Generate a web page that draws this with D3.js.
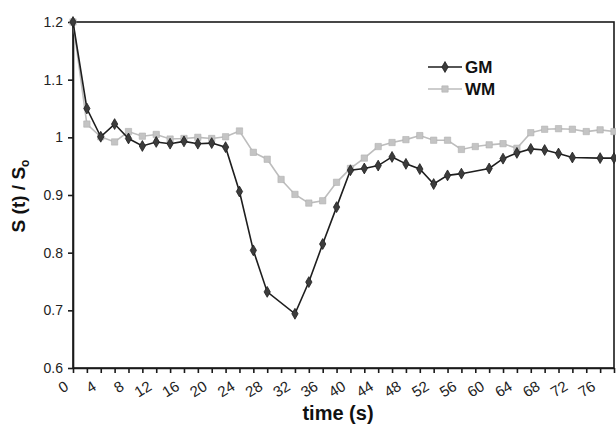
<!DOCTYPE html>
<meta charset="utf-8">
<style>
    body { margin: 0; background: #fff; }
    svg { font-family: "Liberation Sans", Arial, sans-serif; }
    .axis path, .axis line { stroke: #1a1a1a; stroke-width: 1.6; }
    .axis text { fill: #222; font-size: 14px; }
    .frame { fill: none; stroke: #1a1a1a; stroke-width: 1.6; }
    .gm-line { fill: none; stroke: #1e1e1e; stroke-width: 1.6; }
    .wm-line { fill: none; stroke: #bdbdbd; stroke-width: 1.6; }
    .gm-dot { fill: #3c3c3c; stroke: #1e1e1e; stroke-width: 0.8; }
    .wm-dot { fill: #c4c4c4; stroke: #b0b0b0; stroke-width: 0.6; }
    .title { font-weight: bold; fill: #111; }
</style>

<svg width="616" height="436"></svg>

<script src="https://d3js.org/d3.v7.min.js"></script>
<script>
// values
var gmTime = [0, 2, 4, 6, 8, 10, 12, 14, 16, 18, 20, 22, 24, 26, 28, 32, 34, 36, 38,
              40, 42, 44, 46, 48, 50, 52, 54, 56, 60, 62, 64, 66, 68, 70, 72, 76, 78];
var gmValue = [1.2, 1.05, 1.001, 1.023, 0.998, 0.985, 0.992, 0.989, 0.993, 0.989, 0.99, 0.983,
               0.906, 0.804, 0.732, 0.694, 0.749, 0.815, 0.879,
               0.943, 0.946, 0.951, 0.966, 0.954, 0.945, 0.919, 0.934, 0.937,
               0.946, 0.963, 0.973, 0.98, 0.978, 0.972, 0.965, 0.964, 0.964];

var wmTime = d3.range(0, 80, 2);
var wmValue = [1.2, 1.023, 1.001, 0.992, 1.01, 1.002, 1.005, 0.997, 0.998, 1.0,
               0.998, 1.001, 1.011, 0.974, 0.962, 0.927, 0.901, 0.886, 0.89, 0.922,
               0.946, 0.964, 0.984, 0.991, 0.996, 1.003, 0.995, 0.995, 0.979, 0.984,
               0.987, 0.989, 0.981, 1.008, 1.014, 1.015, 1.014, 1.01, 1.013, 1.01];

var xTicks = d3.range(0, 80, 2);
var xLabels = d3.range(0, 80, 4);
var yTicks = [0.6, 0.7, 0.8, 0.9, 1.0, 1.1, 1.2];
var yLabels = ["0.6", "0.7", "0.8", "0.9", "1", "1.1", "1.2"];
var seriesNames = ["GM", "WM"];

var plotLeft = 73, plotRight = 614, plotTop = 22, plotBottom = 368;

var x = d3.scaleLinear().domain([0, 78]).range([plotLeft, plotRight]);
var y = d3.scaleLinear().domain([0.6, 1.2]).range([plotBottom, plotTop]);

var svg = d3.select("svg");

// frame (top and right edges)
svg.append("rect")
    .attr("class", "frame")
    .attr("x", plotLeft).attr("y", plotTop)
    .attr("width", plotRight - plotLeft).attr("height", plotBottom - plotTop);

// x axis
var xAxis = svg.append("g")
    .attr("class", "axis")
    .attr("transform", "translate(0," + plotBottom + ")")
    .call(d3.axisBottom(x)
        .tickValues(xTicks)
        .tickSize(5)
        .tickSizeOuter(0)
        .tickFormat(function(d) { return xLabels.indexOf(d) >= 0 ? d : ""; }));

xAxis.selectAll(".tick text")
    .attr("text-anchor", "end")
    .attr("y", 0).attr("dy", 0)
    .style("font-size", "15px")
    .attr("transform", "translate(-4,21) rotate(-32)");

// y axis
svg.append("g")
    .attr("class", "axis")
    .attr("transform", "translate(" + plotLeft + ",0)")
    .call(d3.axisLeft(y)
        .tickValues(yTicks)
        .tickSize(5)
        .tickSizeOuter(0)
        .tickFormat(function(d, i) { return yLabels[i]; }))
    .selectAll(".tick text")
    .attr("x", -10);

// series
var line = d3.line()
    .x(function(d) { return x(d[0]); })
    .y(function(d) { return y(d[1]); });

var wm = d3.zip(wmTime, wmValue);
var gm = d3.zip(gmTime, gmValue);

var diamond = d3.symbol().type(d3.symbolDiamond).size(34);
var square = d3.symbol().type(d3.symbolSquare).size(40);

svg.append("path").datum(wm).attr("class", "wm-line").attr("d", line);
svg.append("g").selectAll("path")
    .data(wm)
    .enter().append("path")
    .attr("class", "wm-dot")
    .attr("d", square)
    .attr("transform", function(d) { return "translate(" + x(d[0]) + "," + y(d[1]) + ")"; });

svg.append("path").datum(gm).attr("class", "gm-line").attr("d", line);
svg.append("g").selectAll("path")
    .data(gm)
    .enter().append("path")
    .attr("class", "gm-dot")
    .attr("d", diamond)
    .attr("transform", function(d) { return "translate(" + x(d[0]) + "," + y(d[1]) + ")"; });

// legend
var legend = svg.append("g").attr("transform", "translate(428,67)");
seriesNames.forEach(function(name, i) {
    var g = legend.append("g").attr("transform", "translate(0," + i * 22 + ")");
    g.append("line")
        .attr("class", i ? "wm-line" : "gm-line")
        .attr("x1", 0).attr("x2", 34);
    g.append("path")
        .attr("class", i ? "wm-dot" : "gm-dot")
        .attr("d", i ? square : diamond)
        .attr("transform", "translate(17,0)");
    g.append("text")
        .attr("class", "title")
        .attr("x", 37).attr("dy", "0.36em")
        .style("font-size", "17px")
        .text(name);
});

// axis titles
svg.append("text")
    .attr("class", "title")
    .attr("x", 338).attr("y", 420)
    .attr("text-anchor", "middle")
    .style("font-size", "20px")
    .text("time (s)");

var yt = svg.append("text")
    .attr("class", "title")
    .attr("transform", "translate(25,196) rotate(-90)")
    .attr("text-anchor", "middle")
    .style("font-size", "19px");
yt.append("tspan").text("S (t) / S");
yt.append("tspan").attr("dy", 4).style("font-size", "12px").text("o");
</script>
